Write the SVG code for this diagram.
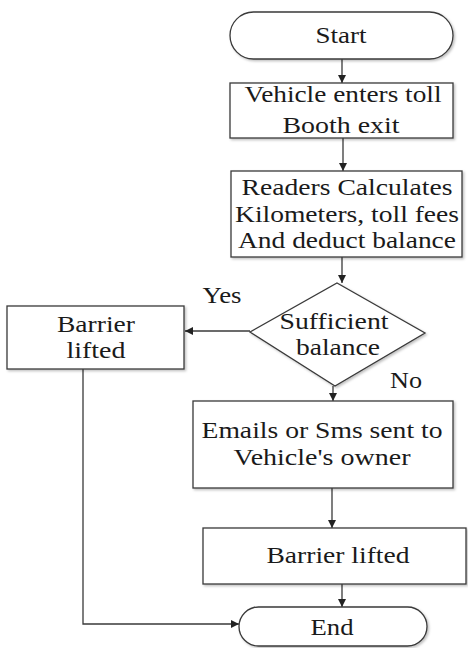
<svg xmlns="http://www.w3.org/2000/svg" width="468" height="648" viewBox="0 0 468 648">
<style>
.s{fill:#fff;stroke:#3a3a3a;stroke-width:1.3}
text{font-family:'Liberation Serif','Times New Roman',serif;font-size:23px;fill:#1a1a1a;text-anchor:middle}
.c{fill:none;stroke:#3a3a3a;stroke-width:1.3}
</style>
<defs>
<marker id="a" viewBox="0 0 10 10" refX="10" refY="5" markerWidth="8" markerHeight="8" markerUnits="userSpaceOnUse" orient="auto">
<path d="M0,0 L10,5 L0,10 z" fill="#222"/>
</marker>
<filter id="sh" x="-5%" y="-5%" width="115%" height="120%">
<feDropShadow dx="1.5" dy="1.5" stdDeviation="1" flood-color="#000" flood-opacity="0.25"/>
</filter>
</defs>
<rect width="468" height="648" fill="#fff"/>
<g id="connectors">
<line class="c" x1="342" y1="59" x2="342" y2="83" marker-end="url(#a)"/>
<line class="c" x1="343" y1="138" x2="343" y2="171" marker-end="url(#a)"/>
<line class="c" x1="342" y1="257" x2="342" y2="283" marker-end="url(#a)"/>
<line class="c" x1="250" y1="331" x2="185" y2="331" marker-end="url(#a)"/>
<line class="c" x1="333" y1="386" x2="333" y2="401" marker-end="url(#a)"/>
<line class="c" x1="332" y1="488" x2="332" y2="528" marker-end="url(#a)"/>
<line class="c" x1="342" y1="584" x2="342" y2="607" marker-end="url(#a)"/>
<polyline class="c" points="83,369 83,624 239,624" marker-end="url(#a)"/>
<text x="222" y="303" textLength="39" lengthAdjust="spacingAndGlyphs">Yes</text>
<text x="406" y="388" textLength="32" lengthAdjust="spacingAndGlyphs">No</text>
</g>
<g id="start">
<rect class="s" x="230" y="12" width="223" height="47" rx="23.5" filter="url(#sh)"/>
<text x="341" y="43" textLength="51" lengthAdjust="spacingAndGlyphs">Start</text>
</g>
<g id="enter">
<rect class="s" x="230" y="83" width="223" height="55" filter="url(#sh)"/>
<text x="343" y="102" textLength="197" lengthAdjust="spacingAndGlyphs">Vehicle enters toll</text>
<text x="341" y="133" textLength="117" lengthAdjust="spacingAndGlyphs">Booth exit</text>
</g>
<g id="readers">
<rect class="s" x="231" y="171" width="231" height="86" filter="url(#sh)"/>
<text x="347" y="195" textLength="211" lengthAdjust="spacingAndGlyphs">Readers Calculates</text>
<text x="347" y="222" textLength="224" lengthAdjust="spacingAndGlyphs">Kilometers, toll fees</text>
<text x="347" y="248" textLength="218" lengthAdjust="spacingAndGlyphs">And deduct balance</text>
</g>
<g id="decision">
<polygon class="s" points="337,283 425,333 335,386 250,332" filter="url(#sh)"/>
<text x="334" y="329" textLength="109" lengthAdjust="spacingAndGlyphs">Sufficient</text>
<text x="338" y="355" textLength="84" lengthAdjust="spacingAndGlyphs">balance</text>
</g>
<g id="barrier1">
<rect class="s" x="7" y="306" width="177" height="63" filter="url(#sh)"/>
<text x="96" y="332" textLength="78" lengthAdjust="spacingAndGlyphs">Barrier</text>
<text x="96" y="358" textLength="59" lengthAdjust="spacingAndGlyphs">lifted</text>
</g>
<g id="emails">
<rect class="s" x="193" y="401" width="260" height="87" filter="url(#sh)"/>
<text x="322" y="438" textLength="241" lengthAdjust="spacingAndGlyphs">Emails or Sms sent to</text>
<text x="322" y="465" textLength="177" lengthAdjust="spacingAndGlyphs">Vehicle's owner</text>
</g>
<g id="barrier2">
<rect class="s" x="203" y="528" width="263" height="56" filter="url(#sh)"/>
<text x="338" y="563" textLength="143" lengthAdjust="spacingAndGlyphs">Barrier lifted</text>
</g>
<g id="end">
<rect class="s" x="239" y="607" width="188" height="39" rx="19.5" filter="url(#sh)"/>
<text x="332" y="635" textLength="43" lengthAdjust="spacingAndGlyphs">End</text>
</g>
</svg>
